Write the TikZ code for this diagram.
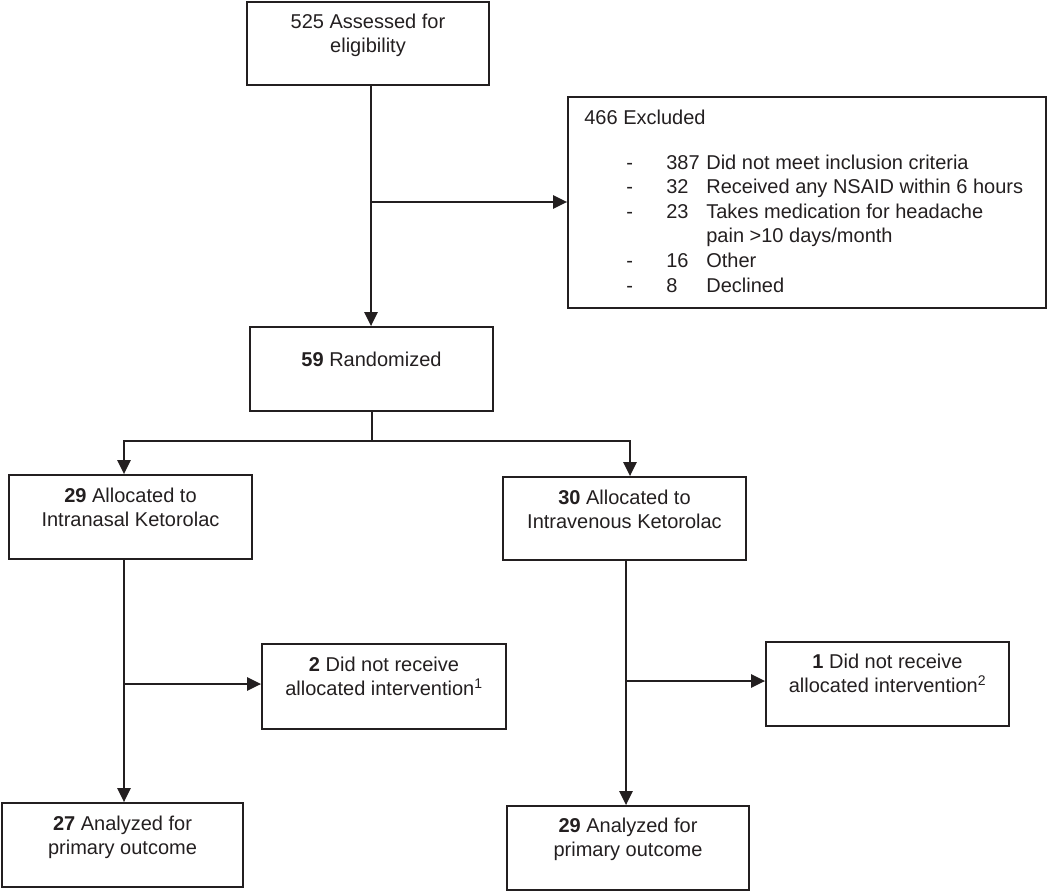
\documentclass[tikz,border=0pt]{standalone}
\usepackage{fontspec}
\setmainfont{Liberation Sans}
\usetikzlibrary{arrows.meta}
\definecolor{ink}{HTML}{231F20}
\newcommand\tl[1]{\begin{tabular}[t]{@{}c@{}}#1\end{tabular}}
\newcommand\tll[1]{\begin{tabular}[t]{@{}l@{}}#1\end{tabular}}
\newcommand\exrow[2]{\hspace*{42pt}\makebox[40pt][l]{-}\makebox[40pt][l]{#1}#2}
\tikzset{
  box/.style={draw=ink, line width=1.7pt, rectangle, inner sep=0pt, minimum width=#1},
  box/.default=243pt,
  txt/.style={inner sep=0pt, text=ink, font=\fontsize{20}{24.6}\selectfont},
  conn/.style={draw=ink, line width=2.4pt},
  arr/.style={conn, -{Triangle[length=14pt,width=13pt]}},
}
\begin{document}
\begin{tikzpicture}[x=1pt,y=-1pt]
\useasboundingbox (0,0) rectangle (1050,891);
% boxes
\node[box=242pt, minimum height=83pt] (top) at (368,43.5) {};
\node[box=478pt, minimum height=211pt] (excl) at (807,202.5) {};
\node[box=243pt, minimum height=84pt] (rand) at (371.5,369) {};
\node[box=243pt, minimum height=84pt] (allocL) at (130.5,517) {};
\node[box=243pt, minimum height=83pt] (allocR) at (624.5,518.5) {};
\node[box=244pt, minimum height=85pt] (dnrL) at (384,686.5) {};
\node[box=243pt, minimum height=84pt] (dnrR) at (887.5,684) {};
\node[box=241pt, minimum height=84pt] (anaL) at (122.5,845) {};
\node[box=242pt, minimum height=84pt] (anaR) at (628,848) {};
% texts
\node[txt, anchor=base] (ttop) at ([yshift=-27pt]top.north) {\tl{525 Assessed for\\eligibility}};
\node[txt, anchor=base west] (texcl) at ([xshift=17pt,yshift=-28pt]excl.north west) {\tll{466 Excluded\\[20.4pt]
\exrow{387}{Did not meet inclusion criteria}\\
\exrow{32}{Received any NSAID within 6 hours}\\
\exrow{23}{Takes medication for headache}\\
\hspace*{122pt}pain >10 days/month\\
\exrow{16}{Other}\\
\exrow{8}{Declined}}};
\node[txt, anchor=base] (trand) at ([yshift=-40pt]rand.north) {\tl{\textbf{59} Randomized}};
\node[txt, anchor=base] (tallocL) at ([yshift=-28pt]allocL.north) {\tl{\textbf{29} Allocated to\\Intranasal Ketorolac}};
\node[txt, anchor=base] (tallocR) at ([yshift=-28pt]allocR.north) {\tl{\textbf{30} Allocated to\\Intravenous Ketorolac}};
\node[txt, anchor=base] (tdnrL) at ([yshift=-28pt]dnrL.north) {\tl{\textbf{2} Did not receive\\allocated intervention\textsuperscript{1}}};
\node[txt, anchor=base] (tdnrR) at ([yshift=-27pt]dnrR.north) {\tl{\textbf{1} Did not receive\\allocated intervention\textsuperscript{2}}};
\node[txt, anchor=base] (tanaL) at ([yshift=-28pt]anaL.north) {\tl{\textbf{27} Analyzed for\\primary outcome}};
\node[txt, anchor=base] (tanaR) at ([yshift=-27pt]anaR.north) {\tl{\textbf{29} Analyzed for\\primary outcome}};
% junctions
\coordinate (j1) at (371,202);
\coordinate (b) at (372,441);
\coordinate (bl) at (124,441);
\coordinate (br) at (630,441);
\coordinate (jl) at (124,684);
\coordinate (jr) at (626,681);
% connectors
\draw[arr] (top.south -| j1) -- (rand.north -| j1);
\draw[arr] (j1) -- (j1 -| excl.west);
\draw[conn] (rand.south -| b) -- (b);
\draw[arr] (b) -- (bl) -- (bl |- allocL.north);
\draw[arr] (b) -- (br) -- (br |- allocR.north);
\draw[arr] (allocL.south -| jl) -- (anaL.north -| jl);
\draw[arr] (jl) -- (jl -| dnrL.west);
\draw[arr] (allocR.south -| jr) -- (anaR.north -| jr);
\draw[arr] (jr) -- (jr -| dnrR.west);
\end{tikzpicture}
\end{document}
